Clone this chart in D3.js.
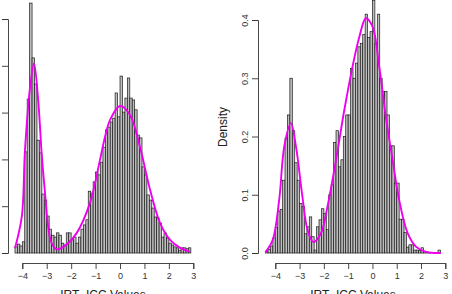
<!DOCTYPE html>
<html>
<head>
<meta charset="utf-8">
<script src="https://cdn.jsdelivr.net/npm/d3@7/dist/d3.min.js"></script>
<style>
  html, body { margin: 0; padding: 0; background: #fff; }
  svg { display: block; font-family: "Liberation Sans", Arial, sans-serif; }
</style>
</head>
<body>
<svg id="chart" width="452" height="294"></svg>
<script>
// ---------------- DATA ----------------
const binWidth = 0.1;
const leftBinStart = -4.3;   // first bin left edge, left panel
const rightBinStart = -4.4;  // first bin left edge, right panel

const leftDensity = [
  0.013,0.019,0.015,0.024,0.216,0.329,0.534,0.417,0.361,0.241,
  0.214,0.126,0.113,0.079,0.051,0.038,0.034,0.043,0.038,0.021,
  0.017,0.043,0.043,0.028,0.034,0.021,0.034,0.051,0.060,0.071,
  0.132,0.128,0.152,0.173,0.167,0.194,0.226,0.263,0.269,0.280,
  0.288,0.342,0.291,0.378,0.301,0.331,0.374,0.331,0.327,0.306,
  0.252,0.246,0.184,0.167,0.124,0.113,0.096,0.077,0.075,0.064,
  0.034,0.043,0.032,0.021,0.017,0.013,0.011,0.006,0.011,0.011,
  0.009,0.011
];

const rightDensity = [
  0.003,0.006,0.012,0.026,0.044,0.072,0.075,0.125,0.197,0.237,
  0.300,0.210,0.155,0.125,0.085,0.080,0.033,0.045,0.062,0.028,
  0.005,0.045,0.057,0.076,0.068,0.040,0.100,0.117,0.190,0.210,
  0.148,0.160,0.200,0.237,0.237,0.317,0.300,0.326,0.354,0.360,
  0.375,0.410,0.370,0.380,0.434,0.360,0.410,0.300,0.277,0.277,
  0.237,0.184,0.184,0.120,0.120,0.058,0.058,0.035,0.010,0.014,
  0.014,0.005,0.005,0.004,0.009,0.003,0.002,0.001,0.000,0.000,
  0.000,0.005
];

// density curves (x value, density)
const leftCurveX = [-4.30,-4.02,-3.89,-3.68,-3.52,-3.35,-3.21,-3.07,-2.94,-2.80,-2.59,-2.32,-1.77,-1.23,-0.82,-0.61,-0.41,0.00,0.41,0.82,1.23,1.64,2.05,2.46,2.87];
const leftCurveY = [0.010,0.078,0.220,0.355,0.405,0.327,0.214,0.128,0.056,0.021,0.008,0.013,0.043,0.107,0.199,0.249,0.284,0.314,0.295,0.226,0.135,0.064,0.028,0.011,0.003];

const rightCurveX = [-4.41,-4.11,-3.84,-3.63,-3.36,-3.15,-2.90,-2.67,-2.44,-2.12,-1.85,-1.50,-1.16,-0.82,-0.54,-0.27,0.00,0.28,0.55,0.83,1.10,1.45,1.79,2.20,2.82];
const rightCurveY = [0.001,0.022,0.091,0.183,0.223,0.183,0.102,0.039,0.019,0.034,0.080,0.160,0.245,0.320,0.371,0.403,0.389,0.320,0.234,0.160,0.091,0.034,0.011,0.002,0.000];

const xTicks = [-4,-3,-2,-1,0,1,2,3];
const leftYTicks = [0.0,0.1,0.2,0.3,0.4,0.5];
const rightYTicks = [0.0,0.1,0.2,0.3,0.4];
const xLabel = "IRT_ICC Values";
const yLabel = "Density";

// ---------------- DRAW ----------------
const svg = d3.select("#chart");
const fmtX = d => (d < 0 ? "\u2212" + Math.abs(d) : String(d));
const fmtY = d3.format(".1f");

function panel(cfg) {
  const g = svg.append("g");
  const x = d3.scaleLinear().domain([-4, 3]).range(cfg.xRange);
  const y = d3.scaleLinear().domain([0, cfg.yTicks[cfg.yTicks.length - 1]]).range(cfg.yRange);

  const bins = cfg.values.map((v, i) => ({ x0: +(cfg.start + i * binWidth).toFixed(2), d: v }));

  g.append("g").selectAll("rect").data(bins).join("rect")
    .attr("x", b => x(b.x0))
    .attr("width", b => x(b.x0 + binWidth) - x(b.x0))
    .attr("y", b => y(b.d))
    .attr("height", b => y(0) - y(b.d))
    .attr("fill", "#bebebe")
    .attr("stroke", "#1a1a1a")
    .attr("stroke-width", 0.7);

  const pts = cfg.cx.map((v, i) => [v, cfg.cy[i]]);
  g.append("path")
    .datum(pts)
    .attr("fill", "none")
    .attr("stroke", "#ee00ee")
    .attr("stroke-width", 1.9)
    .attr("d", d3.line().x(p => x(p[0])).y(p => y(p[1])).curve(d3.curveCatmullRom.alpha(0.5)));

  // x axis
  const xa = g.append("g")
    .attr("transform", `translate(0,${cfg.xAxisY})`)
    .call(d3.axisBottom(x).tickValues(xTicks).tickFormat(fmtX).tickSizeOuter(0).tickSize(6).tickPadding(4));
  // y axis (labels hidden where the reference crops them away)
  const ya = g.append("g")
    .attr("transform", `translate(${cfg.yAxisX},0)`)
    .call(d3.axisLeft(y).tickValues(cfg.yTicks)
      .tickFormat(cfg.showYTickLabels ? fmtY : () => "")
      .tickSizeOuter(0).tickSize(6));
  ya.selectAll("text")
    .attr("x", null).attr("dy", null).attr("y", null)
    .attr("text-anchor", "middle")
    .attr("transform", "translate(-10.5,0) rotate(-90)");
  if (!cfg.showYTickLabels) ya.selectAll("text").remove();

  [xa, ya].forEach(a => {
    a.select(".domain").attr("stroke", "#333").attr("stroke-width", 0.9);
    a.selectAll(".tick line").attr("stroke", "#333").attr("stroke-width", 0.9);
    a.selectAll("text").attr("fill", "#333").attr("font-size", 9)
      .attr("font-family", "Liberation Sans, Arial, sans-serif");
  });

  g.append("text")
    .attr("x", cfg.titleX).attr("y", 298.5)
    .attr("text-anchor", "middle")
    .attr("font-size", 12).attr("fill", "#222")
    .text(xLabel);

  if (cfg.showYLabel) {
    g.append("text")
      .attr("transform", `translate(${cfg.yLabelX},127) rotate(-90)`)
      .attr("text-anchor", "middle")
      .attr("font-size", 12).attr("fill", "#222")
      .text(yLabel);
  }
}

panel({ values: leftDensity, start: leftBinStart, cx: leftCurveX, cy: leftCurveY,
  xRange: [22.3, 193.3], yRange: [253, 19], yTicks: leftYTicks, showYTickLabels: false,
  xAxisY: 263, yAxisX: 8, titleX: 103, showYLabel: false });

panel({ values: rightDensity, start: rightBinStart, cx: rightCurveX, cy: rightCurveY,
  xRange: [275.3, 445.3], yRange: [253, 20], yTicks: rightYTicks, showYTickLabels: true,
  xAxisY: 263, yAxisX: 258, titleX: 353, showYLabel: true, yLabelX: 227 });
</script>
</body>
</html>
